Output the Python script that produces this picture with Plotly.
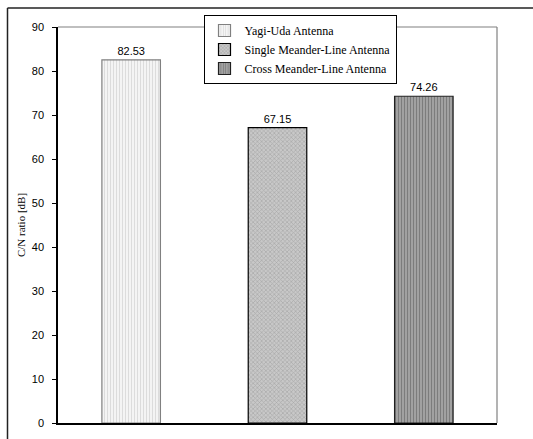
import plotly.graph_objects as go

series_names = ["Yagi-Uda Antenna", "Single Meander-Line Antenna", "Cross Meander-Line Antenna"]
values = [82.53, 67.15, 74.26]
value_labels = ["82.53", "67.15", "74.26"]
y_ticks = [0, 10, 20, 30, 40, 50, 60, 70, 80, 90]

styles = [
    dict(shape="|", fg="#c4c4c4", bg="#f4f4f4", size=3, solidity=0.35, line="#808080"),
    dict(shape="x", fg="#8a8a8a", bg="#c8c8c8", size=3, solidity=0.4, line="#000000"),
    dict(shape="|", fg="#505050", bg="#a8a8a8", size=3, solidity=0.45, line="#202020"),
]

W, H = 533, 439
ml, mr, mt, mb = 58, 36, 27, 16
pw, ph = W - ml - mr, H - mt - mb

def px2x(px):
    return (px - ml) / pw

def px2y(py):
    return (H - mb - py) / ph

fig = go.Figure()
for name, v, lab, st in zip(series_names, values, value_labels, styles):
    fig.add_trace(go.Bar(
        x=[name], y=[v], name=name, width=0.4,
        text=[lab], textposition="outside", cliponaxis=False,
        textfont=dict(family="Liberation Sans, Arial", size=11, color="#000"),
        marker=dict(
            color=st["bg"],
            line=dict(color=st["line"], width=1.2),
            pattern=dict(shape=st["shape"], fgcolor=st["fg"], bgcolor=st["bg"],
                         size=st["size"], solidity=st["solidity"], fillmode="overlay"),
        ),
    ))

fig.update_layout(
    width=W, height=H,
    margin=dict(l=ml, r=mr, t=mt, b=mb, autoexpand=False),
    paper_bgcolor="white", plot_bgcolor="white",
    barmode="overlay", bargap=0.6,
    showlegend=True,
    legend=dict(
        x=px2x(300), y=px2y(15), xanchor="center", yanchor="top",
        bgcolor="white", bordercolor="#000", borderwidth=1,
        font=dict(family="Liberation Serif, Times New Roman", size=12, color="#000"),
        tracegroupgap=0, itemwidth=30,
    ),
    xaxis=dict(
        showticklabels=False, ticks="", showgrid=False, zeroline=False,
        showline=True, linecolor="#000", linewidth=1.5,
        range=[-0.5, 2.5],
    ),
    yaxis=dict(
        range=[0, 90], tickvals=y_ticks, ticktext=[str(t) for t in y_ticks],
        ticks="outside", ticklen=4, tickcolor="#000", ticklabelstandoff=6,
        showgrid=False, zeroline=False,
        showline=True, linecolor="#000", linewidth=1.5,
        tickfont=dict(family="Liberation Sans, Arial", size=11, color="#000"),
        title=dict(text="C/N ratio [dB]", standoff=4,
                   font=dict(family="Liberation Serif, Times New Roman", size=11, color="#000")),
    ),
    shapes=[
        dict(type="line", xref="paper", yref="paper", x0=0, x1=1, y0=1, y1=1,
             line=dict(color="#808080", width=1.2)),
        dict(type="line", xref="paper", yref="paper", x0=1, x1=1, y0=0, y1=1,
             line=dict(color="#808080", width=1.2)),
        dict(type="line", xref="paper", yref="paper", x0=px2x(7.5), x1=px2x(7.5),
             y0=px2y(440), y1=px2y(8), line=dict(color="#222", width=1.5)),
        dict(type="line", xref="paper", yref="paper", x0=px2x(7.5), x1=px2x(534),
             y0=px2y(8), y1=px2y(8), line=dict(color="#222", width=1.5)),
    ],
)

fig.write_html("out.html", config={"displayModeBar": False},
               post_script="document.body.style.margin='0';document.body.style.overflow='hidden';")
